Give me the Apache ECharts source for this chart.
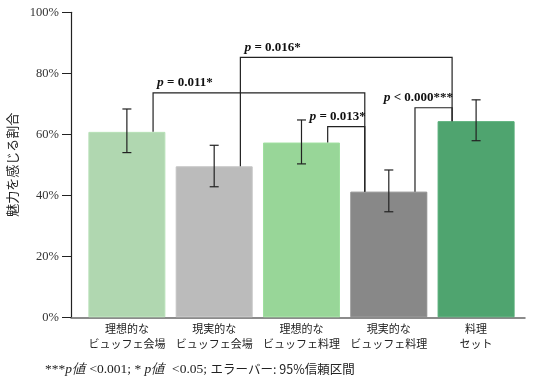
<!DOCTYPE html>
<html><head><meta charset="utf-8">
<script src="https://cdn.jsdelivr.net/npm/echarts@6/dist/echarts.min.js"></script>
<style>html,body{margin:0;padding:0;background:#fff}#c{width:536px;height:386px}</style>
</head><body><div id="c"></div>
<script>
// ---- data ----
const categories = ['理想的な\nビュッフェ会場', '現実的な\nビュッフェ会場', '理想的な\nビュッフェ料理', '現実的な\nビュッフェ料理', '料理\nセット'];
const values = [60.8, 49.5, 57.3, 41.2, 64.3];
const errLow = [54.0, 42.8, 50.3, 34.6, 57.9];
const errHigh = [68.3, 56.4, 64.7, 48.3, 71.3];
const barColors = ['#b0d7b0', '#bbbbbb', '#98d698', '#888888', '#4fa46f'];
// brackets: [fromIndex, toIndex, level(%), label]
const bracketFrom = [0, 1, 2, 3];
const bracketTo = [3, 4, 3, 4];
const bracketLevel = [73.6, 85.2, 62.5, 68.7];
const bracketLabel = ['{i|p}{b| = 0.011*}', '{i|p}{b| = 0.016*}', '{i|p}{b| = 0.013*}', '{i|p}{b| < 0.000***}'];
const yTicks = [0, 20, 40, 60, 80, 100];

const chart = echarts.init(document.getElementById('c'), null, {renderer: 'canvas'});
const LOFF = 0.3, ROFF = -0.275;
const serif = '"Liberation Serif", "Times New Roman", serif';
const cjk = '"Noto Sans CJK JP", sans-serif';

chart.setOption({
  animation: false,
  grid: {left: 71, width: 454, top: 12.3, height: 305, containLabel: false, outerBoundsMode: 'none'},
  xAxis: {
    type: 'value', min: -0.64, max: 4.56,
    splitLine: {show: false},
    axisLine: {show: true, onZero: false, lineStyle: {color: '#666', width: 1.5}},
    axisTick: {show: false},
    axisLabel: {
      customValues: [0, 1, 2, 3, 4],
      formatter: v => categories[Math.round(v)],
      color: '#222', fontFamily: cjk, fontSize: 11, lineHeight: 15, margin: 4
    }
  },
  yAxis: {
    type: 'value', min: 0, max: 100, interval: 20,
    name: '魅力を感じる割合', nameLocation: 'middle', nameRotate: 90, nameGap: 45,
    nameTextStyle: {fontFamily: cjk, fontSize: 13, color: '#222'},
    splitLine: {show: false},
    axisLine: {show: true, onZero: false, lineStyle: {color: '#222', width: 1.2}},
    axisTick: {show: true, length: 9, lineStyle: {color: '#222'}},
    axisLabel: {formatter: '{value}%', fontFamily: serif, fontSize: 12.5, color: '#333', margin: 12,
      customValues: yTicks}
  },
  series: [
    {
      type: 'bar', barWidth: 77,
      data: values.map((v, i) => ({value: [i, v], itemStyle: {color: barColors[i], borderColor: echarts.color.lift(barColors[i], -0.05), borderWidth: 1}})),
      z: 2
    },
    {
      type: 'custom', z: 5,
      data: values.map((v, i) => [i, errLow[i], errHigh[i]]),
      renderItem: (params, api) => {
        const x = api.value(0);
        const lo = api.coord([x, api.value(1)]);
        const hi = api.coord([x, api.value(2)]);
        const hw = 4.5;
        const st = {stroke: '#222', lineWidth: 1.2};
        return {type: 'group', children: [
          {type: 'line', shape: {x1: lo[0], y1: lo[1], x2: hi[0], y2: hi[1]}, style: st},
          {type: 'line', shape: {x1: lo[0]-hw, y1: lo[1], x2: lo[0]+hw, y2: lo[1]}, style: st},
          {type: 'line', shape: {x1: hi[0]-hw, y1: hi[1], x2: hi[0]+hw, y2: hi[1]}, style: st}
        ]};
      }
    },
    {
      type: 'custom', z: 6,
      data: bracketFrom.map((f, k) => [f, bracketTo[k], bracketLevel[k], k]),
      renderItem: (params, api) => {
        const f = api.value(0), t = api.value(1), lvl = api.value(2), k = api.value(3);
        const a0 = api.coord([f + LOFF, values[f]]);
        const a1 = api.coord([f + LOFF, lvl]);
        const b1 = api.coord([t + ROFF, lvl]);
        const b0 = api.coord([t + ROFF, values[t]]);
        const alignLeft = (t - f) > 1;
        return {type: 'group', children: [
          {type: 'polyline', shape: {points: [a0, a1, b1, b0]}, style: {stroke: '#222', lineWidth: 1.2, fill: null}},
          {type: 'text', x: alignLeft ? a1[0] + 4 : b1[0] + 1, y: a1[1] - 3,
            style: {text: bracketLabel[k], align: alignLeft ? 'left' : 'right', verticalAlign: 'bottom',
              rich: {
                i: {fontFamily: serif, fontStyle: 'italic', fontWeight: 'bold', fontSize: 13.5, fill: '#111'},
                b: {fontFamily: serif, fontWeight: 'bold', fontSize: 13, fill: '#111'}
              }}}
        ]};
      }
    }
  ],
  graphic: [{
    type: 'text', left: 45, top: 362,
    style: {
      text: '{s|***}{i|p値}{s| <0.001; * }{i|p値}{s|  <0.05; }{j|エラーバー: 95%信頼区間}',
      rich: {
        s: {fontFamily: serif, fontSize: 13.5, fill: '#222'},
        i: {fontFamily: serif, fontStyle: 'italic', fontSize: 13.5, fill: '#222'},
        j: {fontFamily: cjk, fontSize: 12.5, fill: '#222'}
      }
    }
  }]
});
</script></body></html>
